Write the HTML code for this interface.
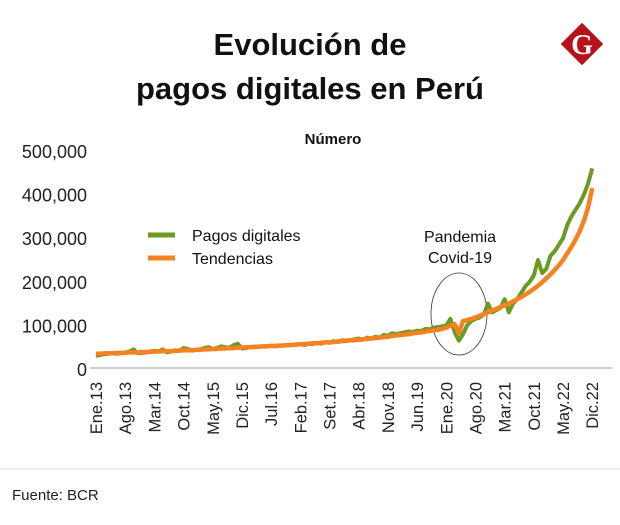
<!DOCTYPE html>
<html><head><meta charset="utf-8"><style>
body{margin:0;background:#fff;width:620px;height:525px;overflow:hidden;font-family:"Liberation Sans",sans-serif;}
svg{display:block}
</style></head><body>
<svg width="620" height="525">
<text x="310" y="55" text-anchor="middle" font-size="31" font-weight="bold" fill="#111">Evolución de</text>
<text x="310" y="99" text-anchor="middle" font-size="31" font-weight="bold" fill="#111">pagos digitales en Perú</text>
<g>
<rect x="567" y="29" width="30" height="30" fill="#b5121b" transform="rotate(45 582 44)"/>
<text x="582" y="54" text-anchor="middle" font-size="28" font-weight="bold" fill="#fff" font-family="Liberation Serif,serif">G</text>
</g>
<text x="333" y="144" text-anchor="middle" font-size="15" font-weight="bold" fill="#111">Número</text>
<g id="yaxis"></g>
<line x1="90" y1="368" x2="612" y2="368" stroke="#999" stroke-width="1"/>
<g id="xaxis"></g>
<ellipse cx="459" cy="314" rx="28" ry="41" fill="none" stroke="#333" stroke-width="0.8"/>
<text x="460" y="242" text-anchor="middle" font-size="16" fill="#111">Pandemia</text>
<text x="460" y="263" text-anchor="middle" font-size="16" fill="#111">Covid-19</text>
<g id="series"></g>
<g>
<line x1="148" y1="235" x2="175" y2="235" stroke="#6b9a22" stroke-width="5"/>
<text x="192" y="241" font-size="16" fill="#111">Pagos digitales</text>
<line x1="148" y1="258" x2="175" y2="258" stroke="#f58220" stroke-width="5"/>
<text x="192" y="264" font-size="16" fill="#111">Tendencias</text>
</g>
<line x1="0" y1="469" x2="620" y2="469" stroke="#ddd" stroke-width="1"/>
<text x="12" y="500" font-size="15" fill="#222">Fuente: BCR</text>
</svg>
<script>
const yTicks=[0,100000,200000,300000,400000,500000];
const yTickLabels=["0","100,000","200,000","300,000","400,000","500,000"];
const xTickIndex=[0,7,14,21,28,35,42,49,56,63,70,77,84,91,98,105,112,119];
const xTickLabels=["Ene.13","Ago.13","Mar.14","Oct.14","May.15","Dic.15","Jul.16","Feb.17","Set.17","Abr.18","Nov.18","Jun.19","Ene.20","Ago.20","Mar.21","Oct.21","May.22","Dic.22"];
const pagos=[30,32,34,35,36,35,36,38,40,45,36,37,
38,40,42,40,45,38,40,43,42,48,46,42,
44,45,48,50,46,48,52,50,49,55,58,47,
48,50,50,51,52,52,53,52,53,54,55,55,
56,57,55,58,57,60,58,62,60,64,62,66,
64,66,68,70,67,72,70,74,72,78,76,82,
80,82,84,86,85,88,87,92,91,95,96,98,
100,115,85,65,80,100,110,115,118,125,150,130,
135,140,160,130,150,160,175,190,200,215,250,220,
230,260,270,285,300,330,350,365,380,400,425,460].map(v=>v*1000);
const tendencias=[35,35,36,36,36,37,37,37,38,38,38,39,
39,39,40,40,41,41,41,42,42,43,43,43,
44,44,45,45,46,46,47,47,48,48,49,49,
50,50,51,51,52,52,53,53,54,54,55,55,
56,57,57,58,59,59,60,61,61,62,63,64,
65,66,66,67,68,69,70,71,72,73,74,76,
77,78,79,80,82,83,84,86,87,89,90,92,
95,100,103,82,110,112,115,118,122,126,130,134,
138,142,146,150,155,160,165,171,177,184,191,199,
208,217,227,238,250,265,280,297,316,340,370,415].map(v=>v*1000);
const NS="http://www.w3.org/2000/svg";
const X=i=>96+i*4.17;
const Y=v=>369-v*(218/500000);
const ya=document.getElementById('yaxis');
yTicks.forEach((t,k)=>{const e=document.createElementNS(NS,'text');


e.setAttribute('x',87);e.setAttribute('y',Y(t)+7);e.setAttribute('text-anchor','end');e.setAttribute('font-size','18');e.setAttribute('fill','#222');e.textContent=yTickLabels[k];ya.appendChild(e);});
const xa=document.getElementById('xaxis');
xTickIndex.forEach((i,k)=>{const e=document.createElementNS(NS,'text');


const x=X(i)+6,y=382;e.setAttribute('transform',`translate(${x},${y}) rotate(-90)`);e.setAttribute('text-anchor','end');e.setAttribute('font-size','16.5');e.setAttribute('fill','#222');e.textContent=xTickLabels[k];xa.appendChild(e);});
const s=document.getElementById('series');
function line(d,c,w,name){const p=document.createElementNS(NS,'polyline');


p.setAttribute('points',d.map((v,i)=>X(i)+','+Y(v)).join(' '));p.setAttribute('fill','none');p.setAttribute('stroke',c);p.setAttribute('stroke-width',w);p.setAttribute('stroke-linejoin','round');s.appendChild(p);}
line(pagos,'#6b9a22',4,'pagos-digitales-line');
line(tendencias,'#f58220',4.5,'tendencias-line');
</script>
</body></html>
